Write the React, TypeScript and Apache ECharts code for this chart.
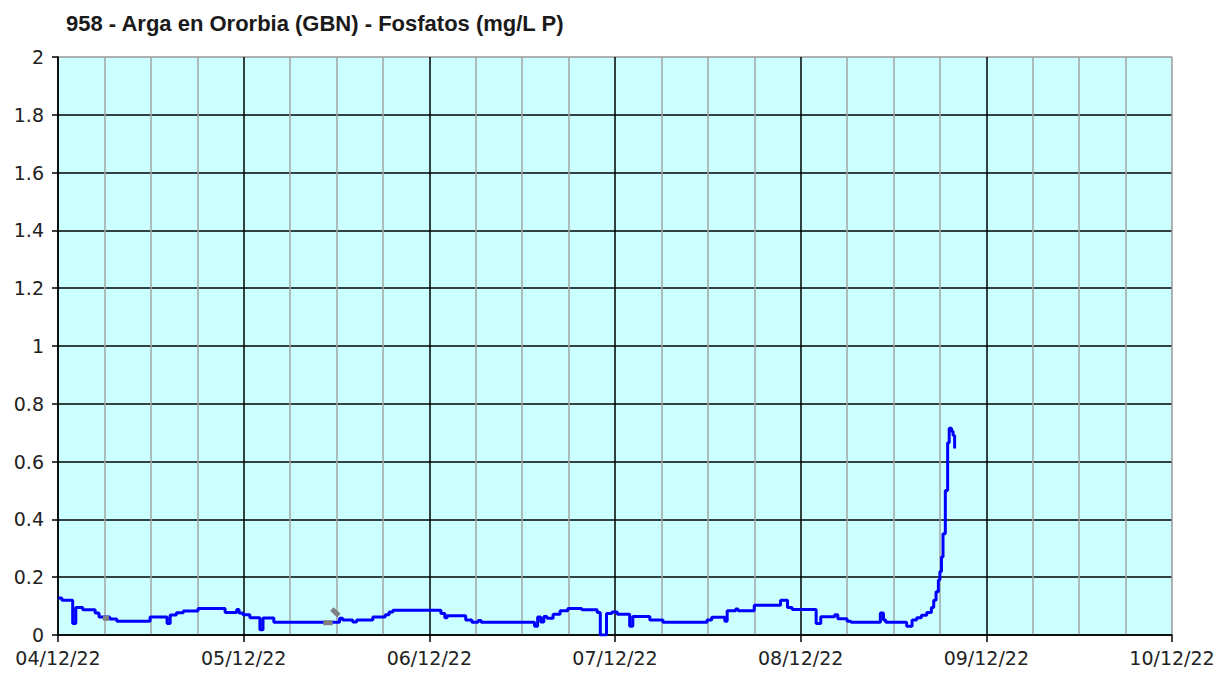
import React, { useEffect, useRef } from "react";
import * as echarts from "echarts";

const titleText = "958 - Arga en Ororbia (GBN) - Fosfatos (mg/L P)";

// x axis: hours since 04/12/22 00:00, one label per day
const dateLabels = ["04/12/22", "05/12/22", "06/12/22", "07/12/22", "08/12/22", "09/12/22", "10/12/22"];
const yTickLabels = ["0", "0.2", "0.4", "0.6", "0.8", "1", "1.2", "1.4", "1.6", "1.8", "2"];

// valid measurements: [hour, mg/L P]
const validHours = [
  0.0, 0.5, 1.9, 2.3, 3.2, 4.8, 5.3, 6.7, 7.6, 11.9, 14.1, 14.5, 15.3, 16.2, 18.1, 21.6, 23.1, 23.4, 23.9,
  24.8, 26.1, 26.5, 27.9, 36.4, 36.8, 38.1, 38.6, 40.7, 42.3, 42.8, 43.3, 49.5, 50.0, 50.3, 52.7, 53.5,
  54.3, 54.7, 61.6, 62.0, 62.4, 62.8, 63.2, 64.0, 64.9, 65.9, 67.7, 69.7, 70.1, 70.9, 71.6, 72.3, 73.9,
  74.3, 76.5, 78.2, 83.9, 84.5, 86.2, 86.5, 87.6, 87.9, 90.0, 93.4, 94.3, 94.9, 98.0, 98.6, 100.4, 100.8,
  102.0, 102.5, 106.3, 106.7, 107.0, 109.7, 110.4, 111.0, 111.6, 112.3, 112.9, 113.2, 113.5, 113.8, 114.0,
  114.2, 114.4, 114.7, 115.0, 115.2, 115.5, 115.7, 115.9,
];
const validValues = [
  0.128, 0.12, 0.04, 0.095, 0.087, 0.076, 0.062, 0.055, 0.048, 0.062, 0.04, 0.069, 0.077, 0.083, 0.092, 0.078,
  0.088, 0.076, 0.07, 0.06, 0.018, 0.059, 0.044, 0.058, 0.052, 0.045, 0.052, 0.062, 0.07, 0.08, 0.086, 0.074,
  0.06, 0.067, 0.052, 0.044, 0.05, 0.044, 0.03, 0.062, 0.045, 0.064, 0.058, 0.072, 0.084, 0.092, 0.087, 0.078,
  0.0, 0.074, 0.08, 0.072, 0.03, 0.064, 0.052, 0.044, 0.052, 0.061, 0.048, 0.084, 0.09, 0.084, 0.103, 0.12,
  0.095, 0.088, 0.04, 0.063, 0.07, 0.056, 0.048, 0.044, 0.076, 0.052, 0.044, 0.03, 0.052, 0.06, 0.068, 0.078,
  0.095, 0.12, 0.15, 0.19, 0.22, 0.27, 0.35, 0.5, 0.665, 0.715, 0.705, 0.69, 0.645,
];

// invalid (grey) measurements, in separate pieces
const invalidA = [[5.8, 0.059], [6.6, 0.057]];
const invalidB = [[34.3, 0.042], [35.5, 0.042]];
const invalidC = [[35.4, 0.09], [36.3, 0.067]];

export default function App() {
  const ref = useRef<HTMLDivElement>(null);
  useEffect(() => {
    if (!ref.current) return;
    const chart = echarts.init(ref.current, null, { renderer: "svg" });
    const blue = validHours.map((h, i) => [h, validValues[i]]);
    const grey = [invalidA, invalidB, invalidC].map((d) => ({
      type: "line",
      data: d,
      symbol: "none",
      lineStyle: { color: "#808080", width: 5 },
      z: 4,
    }));
    const labelFont = { fontFamily: "DejaVu Sans", fontSize: 19, color: "#222" };
    chart.setOption({
      animation: false,
      backgroundColor: "#ffffff",
      title: {
        text: titleText,
        left: 61,
        top: 7,
        textStyle: { fontFamily: "Liberation Sans", fontWeight: "bold", fontSize: 22, color: "#1a1a1a" },
      },
      grid: {
        left: 58,
        right: 60,
        top: 57,
        bottom: 40,
        show: true,
        backgroundColor: "#CCFFFF",
        borderWidth: 0,
      },
      xAxis: {
        type: "value",
        min: 0,
        max: 144,
        interval: 24,
        axisLine: { show: true, onZero: false, lineStyle: { color: "#000", width: 1.5 } },
        axisTick: { show: true, length: 7, lineStyle: { color: "#000", width: 1.5 } },
        axisLabel: {
          ...labelFont,
          margin: 13,
          formatter: (v: number) => dateLabels[Math.round(v / 24)] ?? "",
        },
        splitLine: {
          show: true,
          lineStyle: { color: ["#000", "#000", "#000", "#000", "#000", "#000", "#999"], width: 1.5 },
        },
        minorTick: { show: false, splitNumber: 4 },
        minorSplitLine: { show: true, lineStyle: { color: "#A4A4A4", width: 1.5 } },
      },
      yAxis: {
        type: "value",
        min: 0,
        max: 2,
        interval: 0.2,
        axisLine: { show: true, lineStyle: { color: "#000", width: 1.5 } },
        axisTick: { show: true, length: 6, lineStyle: { color: "#000", width: 1.5 } },
        axisLabel: {
          ...labelFont,
          margin: 14,
          formatter: (v: number) => yTickLabels[Math.round(v / 0.2)] ?? "",
        },
        splitLine: {
          show: true,
          lineStyle: {
            color: ["#000", "#000", "#000", "#000", "#000", "#000", "#000", "#000", "#000", "#000", "#999"],
            width: 1.5,
          },
        },
      },
      series: [
        {
          type: "line",
          data: blue,
          step: "end",
          symbol: "none",
          lineStyle: { color: "#0000FF", width: 3 },
          z: 3,
        },
        ...grey,
      ],
    });
    return () => chart.dispose();
  }, []);
  return <div ref={ref} style={{ position: "absolute", left: 0, top: 0, width: 1232, height: 675 }} />;
}
